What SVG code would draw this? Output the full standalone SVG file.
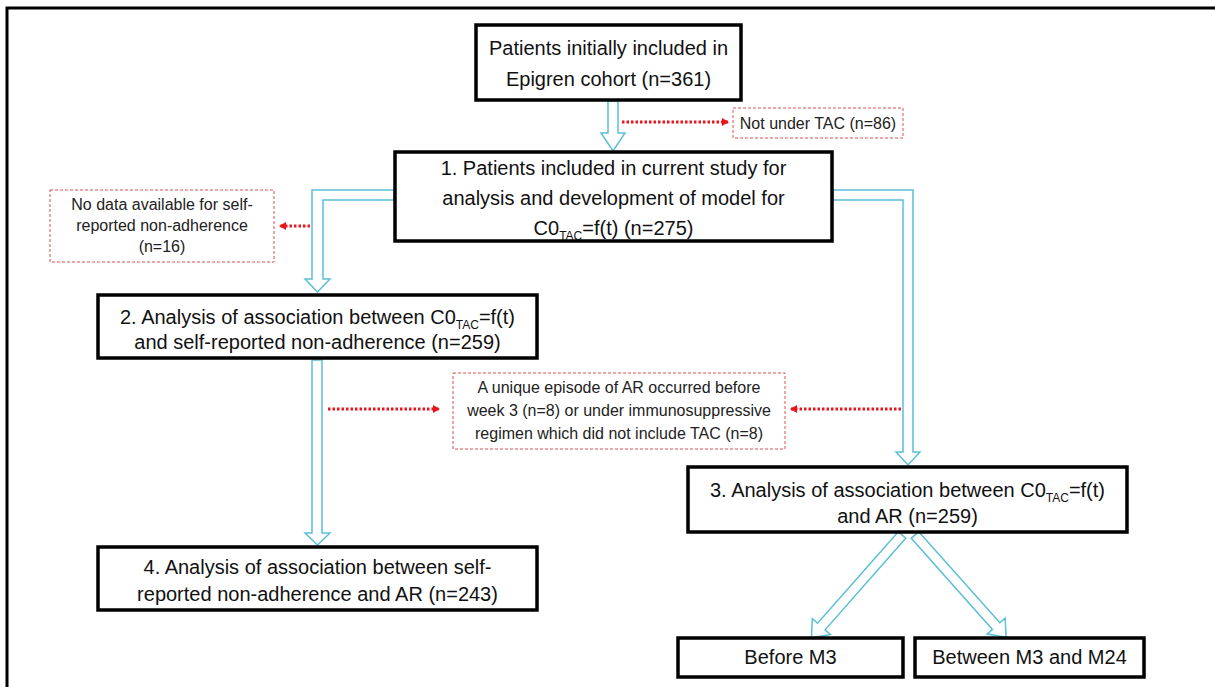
<svg xmlns="http://www.w3.org/2000/svg" width="1215" height="687" viewBox="0 0 1215 687">
<style>
.box{fill:#fff;stroke:#000;stroke-width:3.5}
.dbox{fill:#fff;stroke:#d9534f;stroke-width:1;stroke-dasharray:3,2}
.t{font-family:"Liberation Sans",Arial,sans-serif;font-size:20px;fill:#111;text-anchor:middle}
.s{font-family:"Liberation Sans",Arial,sans-serif;font-size:16px;fill:#222;text-anchor:middle}
.sub{font-size:12px}
.hollow{fill:#fff;stroke:#5bbfd6;stroke-width:1.5;stroke-linejoin:miter}
.dot{fill:none;stroke:#e8141b;stroke-width:3;stroke-dasharray:2.5,2}
</style>
<defs>
<marker id="rh" markerWidth="8" markerHeight="8" refX="6" refY="4" orient="auto" markerUnits="userSpaceOnUse">
<path d="M0,0 L7,4 L0,8 Z" fill="#e8141b"/>
</marker>
</defs>
<rect width="1215" height="687" fill="#fff"/>
<path d="M7,687 V8 H1215" fill="none" stroke="#000" stroke-width="3"/>

<g id="connectors">
<path class="hollow" d="M608,101 V133 H601 L613,151 L625,133 H618 V101 Z"/>
<path class="hollow" d="M394,190 H312 V279 H305 L317.5,292 L330,279 H323 V200 H394 Z"/>
<path class="hollow" d="M312,360 V533 H305 L317.5,545 L330,533 H322 V360 Z"/>
<path class="hollow" d="M833,190 H913 V452 H920 L908,465 L896,452 H903 V200 H833 Z"/>
<path class="hollow" transform="translate(902,535) rotate(131.4)" d="M0,-5 H122 V-12 L137,0 L122,12 V5 H0 Z"/>
<path class="hollow" transform="translate(915,535) rotate(48.3)" d="M0,-5 H122 V-12 L137,0 L122,12 V5 H0 Z"/>
<path class="dot" d="M622,122 H728" marker-end="url(#rh)"/>
<path class="dot" d="M310,226 H280" marker-end="url(#rh)"/>
<path class="dot" d="M328,409 H439" marker-end="url(#rh)"/>
<path class="dot" d="M901,409 H791" marker-end="url(#rh)"/>
</g>

<g id="nodeA">
<rect class="box" x="476" y="25" width="265" height="75"/>
<text class="t" x="608.5" y="55">Patients initially included in</text>
<text class="t" x="608.5" y="86">Epigren cohort (n=361)</text>
</g>
<g id="excl1">
<rect class="dbox" x="733" y="108" width="170" height="30"/>
<text class="s" x="818" y="129">Not under TAC (n=86)</text>
</g>
<g id="nodeB">
<rect class="box" x="395" y="152" width="437" height="89"/>
<text class="t" x="613.5" y="175">1. Patients included in current study for</text>
<text class="t" x="613.5" y="205">analysis and development of model for</text>
<text class="t" x="613.5" y="235">C0<tspan class="sub" dy="5">TAC</tspan><tspan dy="-5">=f(t) (n=275)</tspan></text>
</g>
<g id="excl2">
<rect class="dbox" x="50" y="190" width="224" height="72"/>
<text class="s" x="162" y="210">No data available for self-</text>
<text class="s" x="162" y="231">reported non-adherence</text>
<text class="s" x="162" y="252">(n=16)</text>
</g>
<g id="node2">
<rect class="box" x="98" y="295" width="439" height="63"/>
<text class="t" x="317.5" y="324">2. Analysis of association between C0<tspan class="sub" dy="5">TAC</tspan><tspan dy="-5">=f(t)</tspan></text>
<text class="t" x="317.5" y="349">and self-reported non-adherence (n=259)</text>
</g>
<g id="excl3">
<rect class="dbox" x="453" y="373" width="332" height="76"/>
<text class="s" x="619" y="393">A unique episode of AR occurred before</text>
<text class="s" x="619" y="416">week 3 (n=8) or under immunosuppressive</text>
<text class="s" x="619" y="439">regimen which did not include TAC (n=8)</text>
</g>
<g id="node3">
<rect class="box" x="688" y="467" width="439" height="65"/>
<text class="t" x="907.5" y="497">3. Analysis of association between C0<tspan class="sub" dy="5">TAC</tspan><tspan dy="-5">=f(t)</tspan></text>
<text class="t" x="907.5" y="523">and AR (n=259)</text>
</g>
<g id="node4">
<rect class="box" x="98" y="547" width="439" height="63"/>
<text class="t" x="317.5" y="574">4. Analysis of association between self-</text>
<text class="t" x="317.5" y="601">reported non-adherence and AR (n=243)</text>
</g>
<g id="nodeM3">
<rect class="box" x="678" y="638" width="225" height="39"/>
<text class="t" x="790.5" y="664">Before M3</text>
</g>
<g id="nodeM24">
<rect class="box" x="915" y="638" width="229" height="39"/>
<text class="t" x="1029.5" y="664">Between M3 and M24</text>
</g>
</svg>
